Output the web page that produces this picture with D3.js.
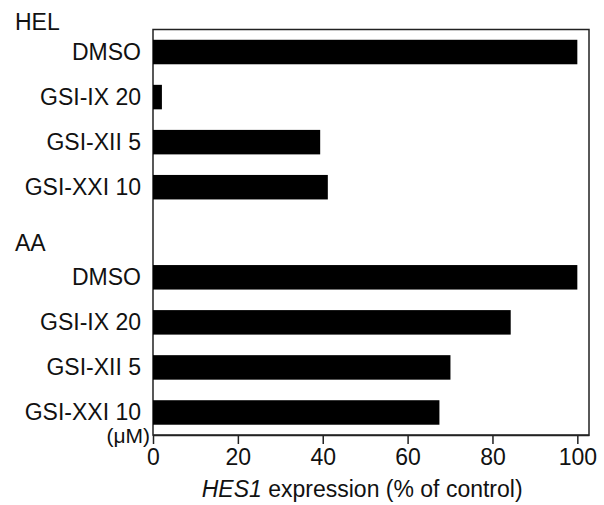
<!DOCTYPE html>
<html>
<head>
<meta charset="utf-8">
<script src="https://cdn.jsdelivr.net/npm/d3@7"></script>
<style>
  body { margin: 0; background: #fff; }
  text { font-family: "Liberation Sans", Arial, sans-serif; fill: #111; }
</style>
</head>
<body>
<div id="chart"></div>
<script>
// data
var groups = ["HEL", "AA"];
var treatments = ["DMSO", "GSI-IX 20", "GSI-XII 5", "GSI-XXI 10"];
var helValues = [100, 2.1, 39.4, 41.2];
var aaValues = [100, 84.3, 70.1, 67.5];
var xTicks = [0, 20, 40, 60, 80, 100];

var width = 604, height = 505;
var margin = {top: 29.5, right: 15, bottom: 70, left: 153};
var fs = "23px";

var svg = d3.select("#chart")
            .append("svg")
            .attr("width", width)
            .attr("height", height);

// rows: 4 HEL bars, one empty row for the "AA" heading, 4 AA bars
var rows = [];
treatments.forEach(function(t, i) { rows.push({key: "HEL|" + t, label: t, value: helValues[i]}); });
rows.push({key: "gap", label: "", value: null});
treatments.forEach(function(t, i) { rows.push({key: "AA|" + t, label: t, value: aaValues[i]}); });

var x = d3.scaleLinear()
          .domain([0, 102.75])
          .range([margin.left, width - margin.right]);

var y = d3.scalePoint()
          .domain(rows.map(function(d) { return d.key; }))
          .range([margin.top, height - margin.bottom])
          .padding(0.5);

var barH = 24.5;

// frame
svg.append("rect")
   .attr("x", x(0))
   .attr("y", margin.top)
   .attr("width", x.range()[1] - x(0))
   .attr("height", height - margin.bottom - margin.top)
   .attr("fill", "none")
   .attr("stroke", "#222")
   .attr("stroke-width", 1.5);

// bars
svg.append("g")
   .selectAll("rect")
   .data(rows.filter(function(d) { return d.value !== null; }))
   .enter().append("rect")
   .attr("x", x(0))
   .attr("y", function(d) { return y(d.key) - barH / 2; })
   .attr("width", function(d) { return x(d.value) - x(0); })
   .attr("height", barH)
   .attr("fill", "#000");

// x axis
var xAxis = svg.append("g")
   .attr("transform", "translate(0," + (height - margin.bottom) + ")")
   .call(d3.axisBottom(x).tickValues(xTicks).tickSize(9).tickPadding(5).tickSizeOuter(0));
xAxis.select(".domain").attr("stroke", "#222").attr("stroke-width", 1.5);
xAxis.selectAll(".tick line").attr("stroke", "#222").attr("stroke-width", 1.5);
xAxis.selectAll("text")
     .style("font-family", "Liberation Sans, Arial, sans-serif")
     .style("font-size", fs)
     .attr("fill", "#111");

// y labels
svg.append("g")
   .selectAll("text")
   .data(rows)
   .enter().append("text")
   .attr("x", x(0) - 12)
   .attr("y", function(d) { return y(d.key); })
   .attr("dy", "0.34em")
   .attr("text-anchor", "end")
   .style("font-size", fs)
   .text(function(d) { return d.label; });

// group headings
svg.append("text")
   .attr("x", 15)
   .attr("y", 30)
   .style("font-size", fs)
   .text(groups[0]);
svg.append("text")
   .attr("x", 15)
   .attr("y", y("gap") + 19)
   .style("font-size", fs)
   .text(groups[1]);

// unit
svg.append("text")
   .attr("x", x(0) - 3)
   .attr("y", height - margin.bottom + 8)
   .attr("text-anchor", "end")
   .style("font-size", "21px")
   .text("(\u03bcM)");

// x axis title
var title = svg.append("text")
   .attr("x", (x(0) + x(100)) / 2 - 3)
   .attr("y", 497)
   .attr("text-anchor", "middle")
   .style("font-size", fs);
title.append("tspan").style("font-style", "italic").text("HES1");
title.append("tspan").text(" expression (% of control)");
</script>
</body>
</html>
